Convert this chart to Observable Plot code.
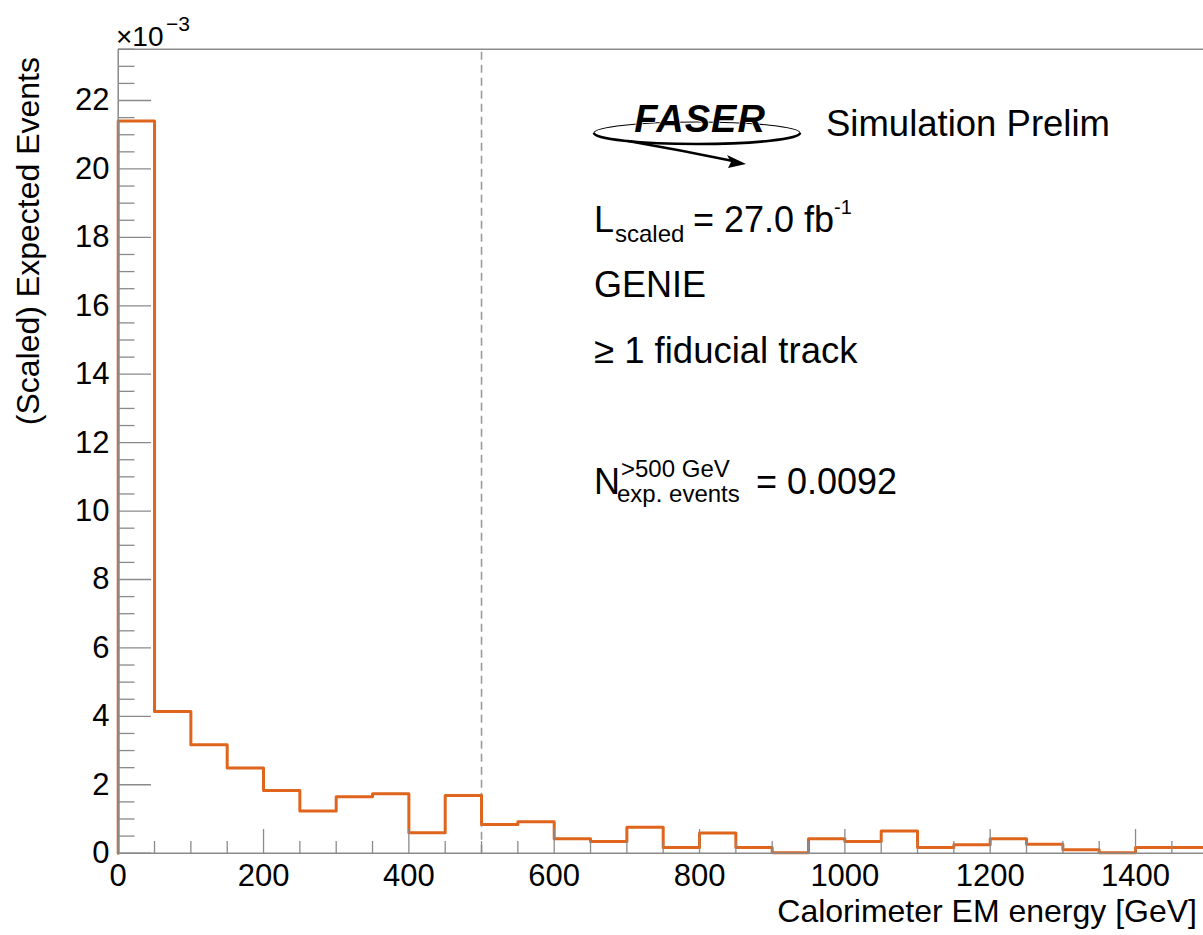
<!DOCTYPE html>
<html>
<head>
<meta charset="utf-8">
<script src="https://cdn.jsdelivr.net/npm/d3@7"></script>
<script src="https://cdn.jsdelivr.net/npm/@observablehq/plot@0.6"></script>
<style>
  html, body { margin: 0; padding: 0; background: #fff; overflow: hidden; }
  #chart { width: 1203px; height: 935px; overflow: hidden; }
</style>
</head>
<body>
<div id="chart"></div>
<script>
// ---- data (values in units of 10^-3) ----
const binLow = [0, 50, 100, 150, 200, 250, 300, 350, 400, 450,
                500, 550, 600, 650, 700, 750, 800, 850, 900, 950,
                1000, 1050, 1100, 1150, 1200, 1250, 1300, 1350, 1400, 1450];
const binWidth = 50;
const expectedE3 = [21.4, 4.14, 3.17, 2.49, 1.83, 1.23, 1.65, 1.74, 0.60, 1.69,
                    0.84, 0.92, 0.42, 0.34, 0.76, 0.17, 0.59, 0.17, 0.01, 0.42,
                    0.34, 0.65, 0.17, 0.25, 0.42, 0.26, 0.10, 0.01, 0.17, 0.17];
const xDomain = [0, 1500];
const yDomain = [0, 23.5];
const xMajorTicks = [0, 200, 400, 600, 800, 1000, 1200, 1400];
const xMinorTicks = d3.range(0, 1501, 50).filter(v => !xMajorTicks.includes(v));
const yMajorTicks = [0, 2, 4, 6, 8, 10, 12, 14, 16, 18, 20, 22];
const yMinorTicks = d3.range(0, 23.51, 0.5).filter(v => !yMajorTicks.includes(v));
const cutValue = 500;

// step outline of the histogram
const lastEdge = binLow[binLow.length - 1] + binWidth;
const outline = [{x: binLow[0], y: 0}]
  .concat(binLow.map((b, i) => ({x: b, y: expectedE3[i]})))
  .concat([{x: lastEdge, y: expectedE3[expectedE3.length - 1]}, {x: lastEdge, y: 0}]);

const axisColor = "#8a8a8a";
const histColor = "#e0651c";
const font = "'Liberation Sans', Arial, Helvetica, sans-serif";

const plot = Plot.plot({
  width: 1203,
  height: 935,
  marginLeft: 118, marginRight: 0, marginTop: 49, marginBottom: 82,
  style: {fontFamily: font, background: "#fff", color: "#000", overflow: "hidden", maxWidth: "none"},
  x: {domain: xDomain, range: [117.7, 1207.7], label: null},
  y: {domain: yDomain, range: [852.7, 48.7], label: null},
  marks: [
    // dashed cut line
    Plot.ruleX([cutValue], {y1: yDomain[0], y2: yDomain[1], stroke: "#9a9a9a", strokeWidth: 1.6, strokeDasharray: "8,5"}),
    // histogram
    Plot.line(outline, {x: "x", y: "y", curve: "step-after", stroke: histColor, strokeWidth: 3}),
    // frame
    Plot.ruleY([yDomain[0]], {stroke: axisColor, strokeWidth: 1.5}),
    Plot.ruleY([yDomain[1]], {stroke: axisColor, strokeWidth: 1.5}),
    Plot.ruleX([xDomain[0]], {stroke: axisColor, strokeWidth: 1.5}),
    Plot.ruleX([xDomain[1]], {stroke: axisColor, strokeWidth: 1.5}),
    // y ticks (inward)
    Plot.axisY({ticks: yMajorTicks, tickSize: -33, tickFormat: () => "", stroke: axisColor, strokeWidth: 1.3, label: null}),
    Plot.axisY({ticks: yMinorTicks, tickSize: -16.5, tickFormat: () => "", stroke: axisColor, strokeWidth: 1.3, label: null}),
    Plot.axisY({ticks: yMajorTicks, tickSize: 0, tickPadding: 9, fontSize: 31, fill: "#000", label: null, tickFormat: d => String(d)}),
    // x ticks (inward)
    Plot.axisX({ticks: xMajorTicks, tickSize: -24, tickFormat: () => "", stroke: axisColor, strokeWidth: 1.3, label: null}),
    Plot.axisX({ticks: xMinorTicks, tickSize: -12, tickFormat: () => "", stroke: axisColor, strokeWidth: 1.3, label: null}),
    Plot.axisX({ticks: xMajorTicks, tickSize: 0, tickPadding: 10, fontSize: 31, fill: "#000", label: null, tickFormat: d => String(d)})
  ]
});

document.getElementById("chart").appendChild(plot);

// ---- annotations ----
const svg = d3.select(plot);
const g = svg.append("g").attr("font-family", font).attr("fill", "#000").attr("text-anchor", "start");

function txt(x, y, s, size, opts = {}) {
  const t = g.append("text").attr("x", x).attr("y", y).attr("font-size", size)
    .attr("text-anchor", "start").text(s);
  for (const k in opts) t.attr(k, opts[k]);
  return t;
}

// exponent label
txt(116, 46, "\u00d710", 28);
txt(166, 31, "\u22123", 21);

// axis titles
txt(0, 0, "(Scaled) Expected Events", 32, {"text-anchor": "end", transform: "translate(39,57) rotate(-90)"});
txt(1197, 922, "Calorimeter EM energy [GeV]", 32, {"text-anchor": "end"});

// FASER logo (drawn)
const logo = g.append("g");
logo.append("ellipse").attr("cx", 697).attr("cy", 133).attr("rx", 103).attr("ry", 11)
  .attr("fill", "none").attr("stroke", "#000").attr("stroke-width", 1.1);
logo.append("path").attr("d", "M594,133 A103,11 0 0 0 800,133")
  .attr("fill", "none").attr("stroke", "#000").attr("stroke-width", 2.6);
logo.append("path").attr("d", "M628,141 Q680,150 733,161")
  .attr("fill", "none").attr("stroke", "#000").attr("stroke-width", 2.6);
logo.append("path").attr("d", "M746,164 L727,155 L731,162 L728,168 Z").attr("fill", "#000");
logo.append("text").attr("x", 700).attr("y", 132).attr("text-anchor", "middle")
  .attr("font-size", 38).attr("font-weight", 900).attr("font-style", "italic")
  .attr("letter-spacing", 1).attr("stroke", "#fff").attr("stroke-width", 1.2).attr("paint-order", "stroke")
  .text("FASER");

txt(826, 136, "Simulation Prelim", 36.5);

// luminosity line
txt(594, 232, "L", 36);
txt(615, 242, "scaled", 24);
txt(693, 232, "= 27.0 fb", 36);
txt(834, 214, "-1", 20);

txt(594, 297, "GENIE", 36);
txt(594, 363, "\u2265 1 fiducial track", 36.5);

// N line
txt(594, 494, "N", 36);
txt(621, 477, ">500 GeV", 24);
txt(617, 502, "exp. events", 24);
txt(756, 494, "= 0.0092", 36);
</script>
</body>
</html>
